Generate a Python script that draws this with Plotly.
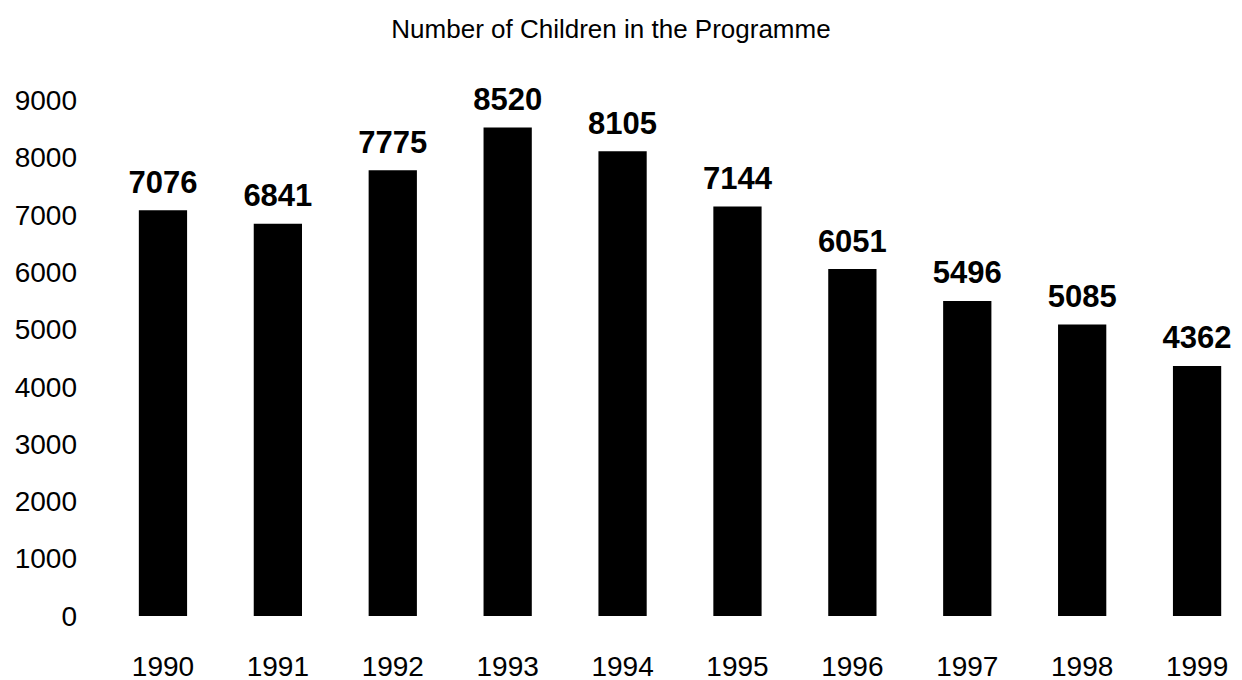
import plotly.graph_objects as go

years = ['1990', '1991', '1992', '1993', '1994', '1995', '1996', '1997', '1998', '1999']
children = [7076, 6841, 7775, 8520, 8105, 7144, 6051, 5496, 5085, 4362]
y_ticks = [0, 1000, 2000, 3000, 4000, 5000, 6000, 7000, 8000, 9000]

FONT = 'Liberation Sans, Arial, sans-serif'

fig = go.Figure()
fig.add_trace(go.Bar(
    x=years, y=children,
    marker=dict(color='black', line=dict(width=0)),
))
# value labels: a text trace on top of the bars, the invisible marker sets the gap
fig.add_trace(go.Scatter(
    x=years, y=children,
    mode='markers+text',
    marker=dict(size=14, opacity=0),
    text=['<b>%d</b>' % v for v in children],
    textposition='top center',
    textfont=dict(family=FONT, size=31, color='black'),
    cliponaxis=False,
    hoverinfo='skip',
))

# the page body has an 8px margin, so the figure is pulled up/left by that much
fig.update_layout(
    width=1242, height=680,
    paper_bgcolor='white', plot_bgcolor='white',
    margin=dict(l=92, r=8, t=72, b=72),
    bargap=0.58,
    showlegend=False,
    title=dict(text='Number of Children in the Programme',
               font=dict(family=FONT, size=26, color='black'),
               x=603 / 1242, xanchor='center', y=1 - 21 / 680, yanchor='middle'),
)
fig.update_xaxes(
    type='category', range=[-0.548, 9.391],
    showgrid=False, showline=False, zeroline=False, ticks='',
    tickfont=dict(family=FONT, size=28, color='black'),
    ticklabelstandoff=31, automargin=False,
)
fig.update_yaxes(
    range=[0, 9350], tickvals=y_ticks,
    showgrid=False, showline=False, zeroline=False, ticks='',
    tickfont=dict(family=FONT, size=28, color='black'),
    ticklabelstandoff=22, automargin=False,
)

fig.write_html("out.html")
